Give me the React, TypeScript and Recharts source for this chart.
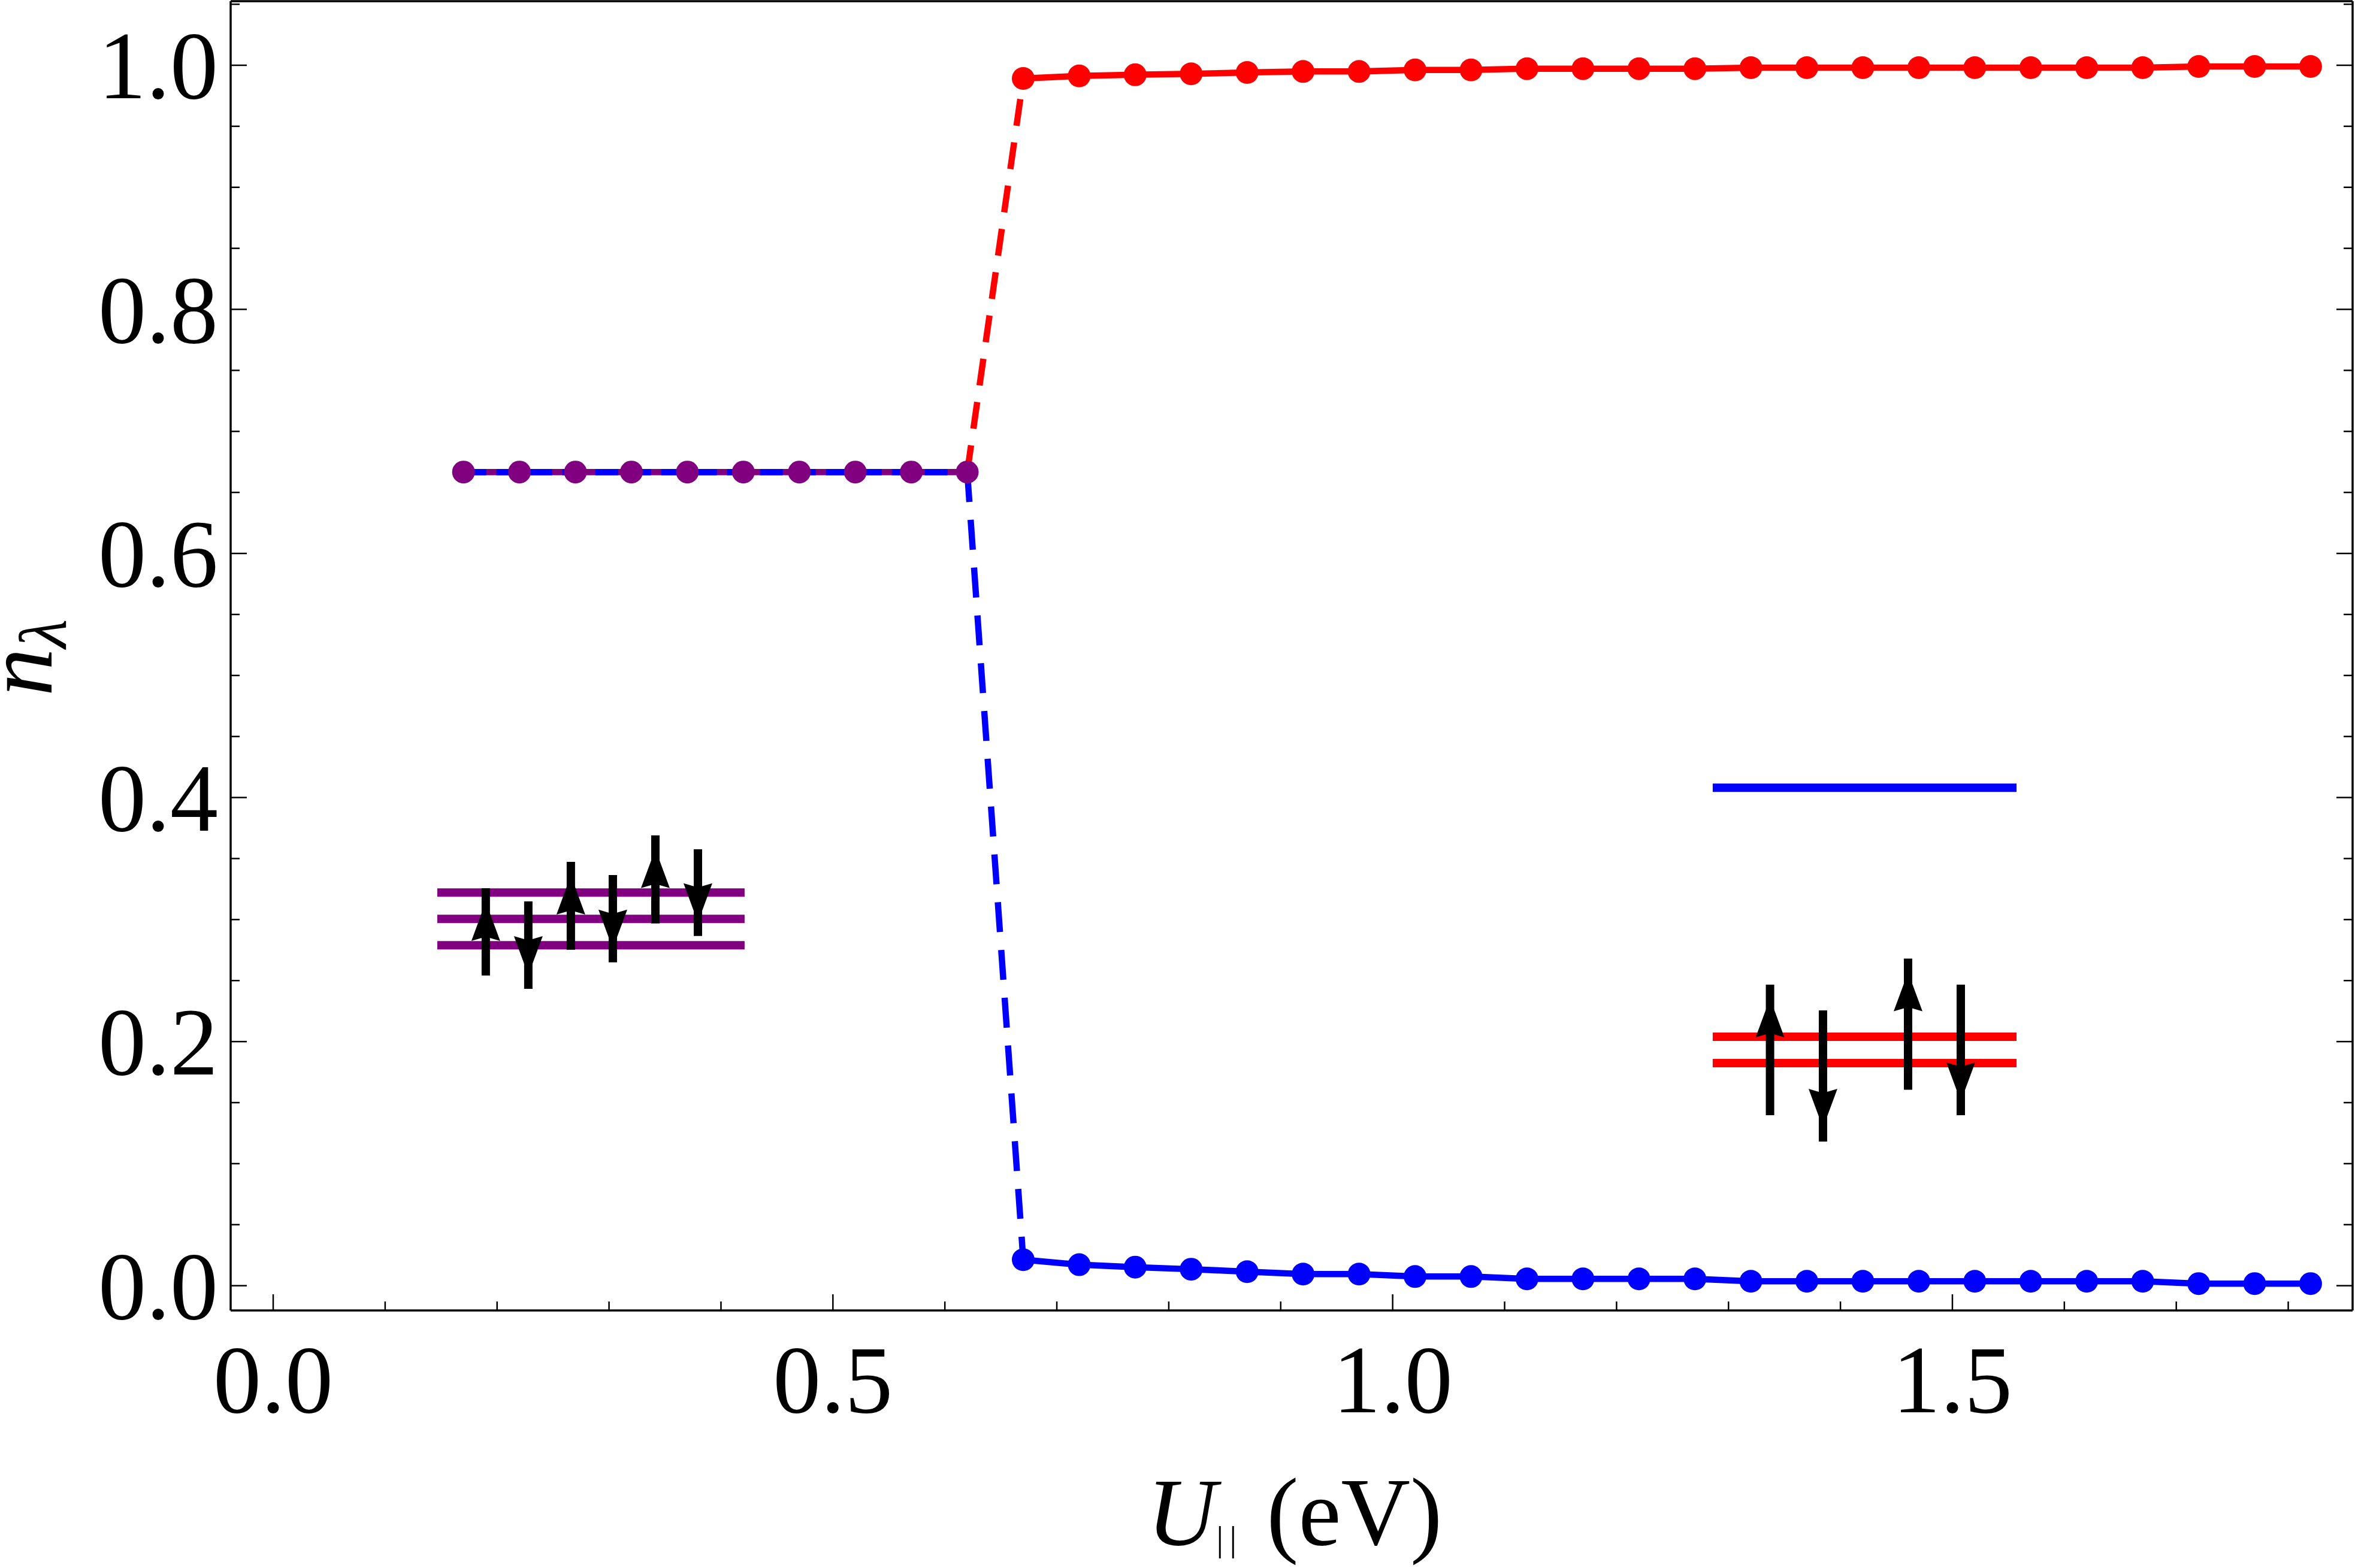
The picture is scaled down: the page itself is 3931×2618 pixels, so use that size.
import React from 'react';
import { ComposedChart, Line, XAxis, YAxis, ReferenceLine, Label } from 'recharts';

const RED = '#FF0000';
const BLUE = '#0000FF';
const PURPLE = '#800080';
const FONT = "'Liberation Serif', 'Times New Roman', Times, serif";

// ---- data ----
const uLow = [0.17, 0.22, 0.27, 0.32, 0.37, 0.42, 0.47, 0.52, 0.57, 0.62];
const nLow = [0.6667, 0.6667, 0.6667, 0.6667, 0.6667, 0.6667, 0.6667, 0.6667, 0.6667, 0.6667];
const uHigh = [0.67, 0.72, 0.77, 0.82, 0.87, 0.92, 0.97, 1.02, 1.07, 1.12, 1.17, 1.22,
  1.27, 1.32, 1.37, 1.42, 1.47, 1.52, 1.57, 1.62, 1.67, 1.72, 1.77, 1.82];
const nRedHigh = [0.9892, 0.9913, 0.9922, 0.993, 0.9941, 0.9949, 0.9949, 0.9962, 0.9962, 0.9972, 0.9972, 0.9972,
  0.9972, 0.998, 0.998, 0.998, 0.998, 0.998, 0.998, 0.998, 0.998, 0.999, 0.999, 0.999];
const nBlueHigh = [0.0213, 0.0172, 0.0152, 0.0135, 0.0115, 0.0095, 0.0095, 0.0075, 0.0075, 0.0056, 0.0056, 0.0056,
  0.0056, 0.0036, 0.0036, 0.0036, 0.0036, 0.0036, 0.0036, 0.0036, 0.0036, 0.0017, 0.0017, 0.0017];

// ---- axes ----
const xDomain = [-0.038, 1.8575];
const yDomain = [-0.0203, 1.0525];
const xTicks = [0, 0.1, 0.2, 0.3, 0.4, 0.5, 0.6, 0.7, 0.8, 0.9, 1.0, 1.1, 1.2, 1.3, 1.4, 1.5, 1.6, 1.7, 1.8];
const xMajorTicks = [0, 0.5, 1.0, 1.5];
const yTicks = [0, 0.05, 0.1, 0.15, 0.2, 0.25, 0.3, 0.35, 0.4, 0.45, 0.5, 0.55, 0.6, 0.65, 0.7, 0.75, 0.8, 0.85, 0.9, 0.95, 1.0, 1.05];
const yMajorTicks = [0, 0.2, 0.4, 0.6, 0.8, 1.0];

// ---- insets (orbital level diagrams) ----
const leftLevelSpan = [0.1466, 0.4211];
const leftLevels = [0.3221, 0.3005, 0.279];
const leftSpins = [
  { u: 0.1899, from: 0.2541, to: 0.3257 },
  { u: 0.2279, from: 0.3149, to: 0.2432 },
  { u: 0.2659, from: 0.2752, to: 0.3473 },
  { u: 0.3034, from: 0.3365, to: 0.2649 },
  { u: 0.3414, from: 0.2968, to: 0.369 },
  { u: 0.3794, from: 0.3576, to: 0.2865 },
];
const rightLevelSpan = [1.2859, 1.5573];
const rightEmptyLevels = [0.408];
const rightFilledLevels = [0.204, 0.1824];
const rightSpins = [
  { u: 1.3371, from: 0.1397, to: 0.2467 },
  { u: 1.3844, from: 0.2256, to: 0.1181 },
  { u: 1.4604, from: 0.1605, to: 0.268 },
  { u: 1.5075, from: 0.2467, to: 0.1397 },
];

// ---- series tables ----
const lowData = uLow.map((u, i) => ({ u, n: nLow[i] }));
const redData = uHigh.map((u, i) => ({ u, n: nRedHigh[i] }));
const blueData = uHigh.map((u, i) => ({ u, n: nBlueHigh[i] }));
const jumpRed = [
  { u: uLow[uLow.length - 1], n: nLow[nLow.length - 1] },
  { u: uHigh[0], n: nRedHigh[0] },
];
const jumpBlue = [
  { u: uLow[uLow.length - 1], n: nLow[nLow.length - 1] },
  { u: uHigh[0], n: nBlueHigh[0] },
];

const isMajor = (v: number, majors: number[]) => majors.some((m) => Math.abs(m - v) < 1e-6);
const MAJOR = 27;
const MINOR = 15;
const TICK_W = 2.5;
const AXIS_W = 3.5;

const BottomTick = (props: any) => {
  const { x, y, payload } = props;
  const major = isMajor(payload.value, xMajorTicks);
  return (
    <g>
      <line x1={x} x2={x} y1={y} y2={y - (major ? MAJOR : MINOR)} stroke="#000" strokeWidth={TICK_W} />
      {major && (
        <text x={x} y={y + 170} textAnchor="middle" fontFamily={FONT} fontSize={160} fill="#000">
          {Number(payload.value).toFixed(1)}
        </text>
      )}
    </g>
  );
};

const TopTick = (props: any) => {
  const { x, y, payload } = props;
  const major = isMajor(payload.value, xMajorTicks);
  return <line x1={x} x2={x} y1={y} y2={y + (major ? MAJOR : MINOR)} stroke="#000" strokeWidth={TICK_W} />;
};

const LeftTick = (props: any) => {
  const { x, y, payload } = props;
  const major = isMajor(payload.value, yMajorTicks);
  return (
    <g>
      <line x1={x} x2={x + (major ? MAJOR : MINOR)} y1={y} y2={y} stroke="#000" strokeWidth={TICK_W} />
      {major && (
        <text x={x - 21} y={y + 55} textAnchor="end" fontFamily={FONT} fontSize={160} fill="#000">
          {Number(payload.value).toFixed(1)}
        </text>
      )}
    </g>
  );
};

const RightTick = (props: any) => {
  const { x, y, payload } = props;
  const major = isMajor(payload.value, yMajorTicks);
  return <line x1={x} x2={x - (major ? MAJOR : MINOR)} y1={y} y2={y} stroke="#000" strokeWidth={TICK_W} />;
};

const XLabel = (props: any) => {
  const vb = props.viewBox || { x: 0, y: 0, width: 0, height: 0 };
  const cx = vb.x + vb.width / 2 + 5;
  const by = vb.y + 391;
  return (
    <text x={cx} y={by} textAnchor="middle" fontFamily={FONT} fontSize={160} fill="#000">
      <tspan fontFamily={FONT} fontStyle="italic">U</tspan>
      <tspan fontFamily={FONT} fontSize={60} dy={10} letterSpacing={10}>||</tspan>
      <tspan fontFamily={FONT} dy={-10}> (eV)</tspan>
    </text>
  );
};

const YLabel = (props: any) => {
  const vb = props.viewBox || { x: 0, y: 0, width: 0, height: 0 };
  const bx = 86;
  const cy = vb.y + vb.height / 2 + 3;
  return (
    <text x={bx} y={cy} transform={`rotate(-90, ${bx}, ${cy})`} textAnchor="middle" fontFamily={FONT} fontSize={160} fill="#000">
      <tspan fontFamily={FONT} fontStyle="italic">n</tspan>
      <tspan fontFamily={FONT} fontStyle="italic" fontSize={112} dy={24}>λ</tspan>
    </text>
  );
};

const SpinArrow = (props: any) => {
  const { x1, y1, x2, y2 } = props;
  const dx = x2 - x1;
  const dy = y2 - y1;
  const len = Math.sqrt(dx * dx + dy * dy) || 1;
  const ux = dx / len;
  const uy = dy / len;
  const px = -uy;
  const py = ux;
  const tipX = x2 - ux * 23;
  const tipY = y2 - uy * 23;
  const baseX = tipX - ux * 65;
  const baseY = tipY - uy * 65;
  const notchX = baseX + ux * 7;
  const notchY = baseY + uy * 7;
  const hw = 24;
  const pts = [
    [tipX, tipY],
    [baseX + px * hw, baseY + py * hw],
    [notchX, notchY],
    [baseX - px * hw, baseY - py * hw],
  ]
    .map((p) => p.join(','))
    .join(' ');
  return (
    <g>
      <line x1={x1} y1={y1} x2={x2} y2={y2} stroke="#000" strokeWidth={14} />
      <polygon points={pts} fill="#000" />
    </g>
  );
};

const LINE_W = 10.5;
const DOT_R = 19;

export default function App() {
  return (
    <div style={{ position: 'absolute', left: 0, top: 0, background: '#fff' }}>
      <ComposedChart width={3931} height={2618} margin={{ top: 0, right: 0, bottom: 0, left: 0 }}>
        <XAxis
          dataKey="u"
          type="number"
          domain={xDomain}
          allowDataOverflow
          ticks={xTicks}
          interval={0}
          height={430}
          tickSize={0}
          tickMargin={0}
          tickLine={false}
          tick={BottomTick}
          axisLine={{ stroke: '#000', strokeWidth: AXIS_W }}
          label={<Label content={XLabel} />}
        />
        <XAxis
          xAxisId="top"
          orientation="top"
          type="number"
          domain={xDomain}
          allowDataOverflow
          ticks={xTicks}
          interval={0}
          height={2}
          tickSize={0}
          tickMargin={0}
          tickLine={false}
          tick={TopTick}
          axisLine={{ stroke: '#000', strokeWidth: AXIS_W }}
        />
        <YAxis
          type="number"
          domain={yDomain}
          allowDataOverflow
          ticks={yTicks}
          interval={0}
          width={385}
          tickSize={0}
          tickMargin={0}
          tickLine={false}
          tick={LeftTick}
          axisLine={{ stroke: '#000', strokeWidth: AXIS_W }}
          label={<Label content={YLabel} />}
        />
        <YAxis
          yAxisId="right"
          orientation="right"
          type="number"
          domain={yDomain}
          allowDataOverflow
          ticks={yTicks}
          interval={0}
          width={4}
          tickSize={0}
          tickMargin={0}
          tickLine={false}
          tick={RightTick}
          axisLine={{ stroke: '#000', strokeWidth: AXIS_W }}
        />

        {/* inset: low-U configuration */}
        {leftLevels.map((lv, i) => (
          <ReferenceLine
            key={`ll${i}`}
            segment={[{ x: leftLevelSpan[0], y: lv }, { x: leftLevelSpan[1], y: lv }]}
            stroke={PURPLE}
            strokeWidth={14}
          />
        ))}
        {leftSpins.map((s, i) => (
          <ReferenceLine
            key={`ls${i}`}
            segment={[{ x: s.u, y: s.from }, { x: s.u, y: s.to }]}
            shape={SpinArrow}
          />
        ))}
        {/* inset: high-U configuration */}
        {rightEmptyLevels.map((lv, i) => (
          <ReferenceLine
            key={`re${i}`}
            segment={[{ x: rightLevelSpan[0], y: lv }, { x: rightLevelSpan[1], y: lv }]}
            stroke={BLUE}
            strokeWidth={14}
          />
        ))}
        {rightFilledLevels.map((lv, i) => (
          <ReferenceLine
            key={`rf${i}`}
            segment={[{ x: rightLevelSpan[0], y: lv }, { x: rightLevelSpan[1], y: lv }]}
            stroke={RED}
            strokeWidth={14}
          />
        ))}
        {rightSpins.map((s, i) => (
          <ReferenceLine
            key={`rs${i}`}
            segment={[{ x: s.u, y: s.from }, { x: s.u, y: s.to }]}
            shape={SpinArrow}
          />
        ))}

        {/* data */}
        <Line
          data={lowData}
          dataKey="n"
          type="linear"
          stroke={PURPLE}
          strokeWidth={LINE_W}
          dot={{ r: DOT_R, fill: PURPLE, stroke: PURPLE, strokeWidth: 0 }}
          activeDot={false}
          isAnimationActive={false}
        />
        <Line
          data={lowData}
          dataKey="n"
          type="linear"
          stroke={BLUE}
          strokeWidth={LINE_W}
          strokeDasharray="38 17"
          dot={false}
          activeDot={false}
          isAnimationActive={false}
        />
        <Line
          data={jumpRed}
          dataKey="n"
          type="linear"
          stroke={RED}
          strokeWidth={LINE_W}
          strokeDasharray="45 28"
          dot={false}
          activeDot={false}
          isAnimationActive={false}
        />
        <Line
          data={jumpBlue}
          dataKey="n"
          type="linear"
          stroke={BLUE}
          strokeWidth={LINE_W}
          strokeDasharray="50 30"
          dot={false}
          activeDot={false}
          isAnimationActive={false}
        />
        <Line
          data={redData}
          dataKey="n"
          type="linear"
          stroke={RED}
          strokeWidth={LINE_W}
          dot={{ r: DOT_R, fill: RED, stroke: RED, strokeWidth: 0 }}
          activeDot={false}
          isAnimationActive={false}
        />
        <Line
          data={blueData}
          dataKey="n"
          type="linear"
          stroke={BLUE}
          strokeWidth={LINE_W}
          dot={{ r: DOT_R, fill: BLUE, stroke: BLUE, strokeWidth: 0 }}
          activeDot={false}
          isAnimationActive={false}
        />
      </ComposedChart>
    </div>
  );
}
